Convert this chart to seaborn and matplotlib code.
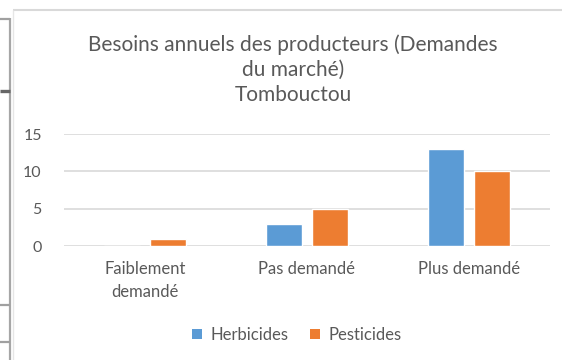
import matplotlib
matplotlib.use("Agg")
import matplotlib.pyplot as plt
from matplotlib.lines import Line2D
from matplotlib.patches import Patch
import pandas as pd
import seaborn as sns

# Données : besoins annuels (Tombouctou)
categories = ["Faiblement\ndemandé", "Pas demandé", "Plus demandé"]
herbicides = [0, 3, 13]
pesticides = [1, 5, 10]
series_names = ["Herbicides", "Pesticides"]
y_ticks = [0, 5, 10, 15]

df = pd.DataFrame({
    "categorie": categories * 2,
    "produit": [series_names[0]] * 3 + [series_names[1]] * 3,
    "valeur": herbicides + pesticides,
})

sns.set_theme(style="white")
plt.rcParams["font.family"] = ["Lato", "DejaVu Sans"]

TXT = "#595959"
GRID = "#d9d9d9"
palette = {"Herbicides": "#5B9BD5", "Pesticides": "#ED7D31"}

W, H = 562, 360
fig = plt.figure(figsize=(W / 100, H / 100), dpi=100)
fig.patch.set_facecolor("white")


def px(x, y):
    return x / W, 1 - y / H


l, b = px(64, 246)
r, t = px(550, 134)
ax = fig.add_axes([l, b, r - l, t - b])

sns.barplot(data=df, x="categorie", y="valeur", hue="produit",
            palette=palette, width=0.57, gap=0.22, ax=ax,
            legend=False, saturation=1)

ax.set_ylim(0, 15)
ax.set_xlim(-0.5, 2.5)
ax.set_yticks(y_ticks)
ax.set_yticklabels([str(v) for v in y_ticks], fontsize=11.5, color=TXT)
ax.tick_params(axis="x", labelsize=12, colors=TXT, length=0, pad=11)
ax.tick_params(axis="y", length=0, pad=16)
ax.set_xlabel("")
ax.set_ylabel("")
for lab in ax.get_xticklabels():
    lab.set_linespacing(1.5)
for s in ax.spines.values():
    s.set_visible(False)
ax.set_axisbelow(True)
ax.yaxis.grid(True, color=GRID, linewidth=1.2)
ax.xaxis.grid(False)
ax.set_facecolor("none")

fig.text(*px(293, 70), "Besoins annuels des producteurs (Demandes\ndu marché)\nTombouctou",
         ha="center", va="center", fontsize=15, color=TXT, linespacing=1.32)

handles = [Patch(facecolor=palette[n], edgecolor="none") for n in series_names]
fig.legend(handles, series_names, loc="center", bbox_to_anchor=px(297, 335),
           ncol=2, frameon=False, fontsize=12, labelcolor=TXT,
           handlelength=0.6, handleheight=0.6, handletextpad=0.5,
           columnspacing=1.3)

# Cadre du graphique et bordures de la page
def line(x0, y0, x1, y1, color, lw):
    xa, ya = px(x0, y0)
    xb, yb = px(x1, y1)
    fig.add_artist(Line2D([xa, xb], [ya, yb], transform=fig.transFigure,
                          color=color, linewidth=lw, solid_capstyle="butt"))

line(12.5, 10, 562, 10, GRID, 1.5)
line(12.5, 10, 12.5, 360, "#e6e6e6", 1.0)
line(10, 18, 10, 360, "#a6a6a6", 1.6)
line(0, 19, 10, 19, "#a0a0a0", 1.6)
line(0, 91, 10, 91, "#666666", 2.4)
line(0, 305, 10, 305, "#a0a0a0", 1.6)
line(0, 342, 10, 342, "#a0a0a0", 1.6)

fig.savefig("out.png", dpi=100, facecolor="white")
